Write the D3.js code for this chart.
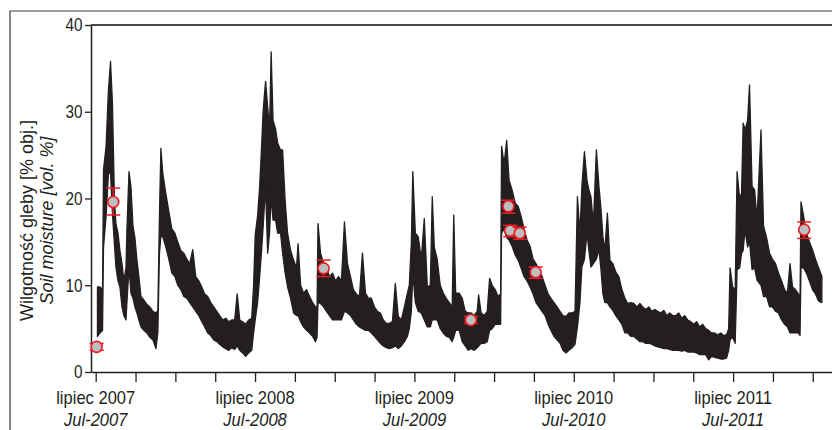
<!DOCTYPE html>
<html>
<head>
<meta charset="utf-8">
<script src="https://cdn.jsdelivr.net/npm/d3@7"></script>
<style>
  html, body { margin: 0; padding: 0; background: #fff; }
  svg { display: block; }
  text { font-family: 'Liberation Sans', Arial, sans-serif; fill: #231f20; }
</style>
</head>
<body>
<div id="chart"></div>
<script>
// Sample times (decimal years) of the sensor record
const sampleYears = [
  2007.511, 2007.527, 2007.543, 2007.549, 2007.565, 2007.580, 2007.593, 2007.605, 2007.618, 2007.627,
  2007.640, 2007.652, 2007.665, 2007.677, 2007.690, 2007.696, 2007.709, 2007.721, 2007.734, 2007.746,
  2007.759, 2007.771, 2007.784, 2007.802, 2007.821, 2007.840, 2007.859, 2007.878, 2007.890, 2007.900,
  2007.909, 2007.921, 2007.940, 2007.959, 2007.978, 2007.997, 2008.015, 2008.034, 2008.053, 2008.072,
  2008.090, 2008.109, 2008.128, 2008.147, 2008.166, 2008.184, 2008.203, 2008.222, 2008.241, 2008.260,
  2008.278, 2008.297, 2008.316, 2008.335, 2008.353, 2008.372, 2008.388, 2008.404, 2008.422, 2008.441,
  2008.460, 2008.479, 2008.491, 2008.501, 2008.516, 2008.529, 2008.541, 2008.551, 2008.566, 2008.579,
  2008.591, 2008.601, 2008.613, 2008.629, 2008.642, 2008.660, 2008.673, 2008.688, 2008.704, 2008.723,
  2008.742, 2008.760, 2008.770, 2008.786, 2008.804, 2008.823, 2008.842, 2008.861, 2008.879, 2008.889,
  2008.895, 2008.911, 2008.930, 2008.948, 2008.967, 2008.986, 2009.005, 2009.024, 2009.042, 2009.061,
  2009.080, 2009.099, 2009.117, 2009.136, 2009.155, 2009.174, 2009.193, 2009.211, 2009.230, 2009.249,
  2009.268, 2009.286, 2009.305, 2009.324, 2009.343, 2009.362, 2009.380, 2009.399, 2009.418, 2009.437,
  2009.456, 2009.468, 2009.481, 2009.490, 2009.506, 2009.524, 2009.543, 2009.562, 2009.581, 2009.600,
  2009.612, 2009.625, 2009.643, 2009.662, 2009.681, 2009.700, 2009.719, 2009.737, 2009.747, 2009.759,
  2009.781, 2009.800, 2009.819, 2009.838, 2009.856, 2009.875, 2009.894, 2009.903, 2009.919, 2009.938,
  2009.957, 2009.972, 2009.988, 2010.007, 2010.025, 2010.041, 2010.047, 2010.063, 2010.079, 2010.094,
  2010.113, 2010.132, 2010.151, 2010.169, 2010.188, 2010.207, 2010.226, 2010.245, 2010.263, 2010.282,
  2010.301, 2010.320, 2010.339, 2010.357, 2010.376, 2010.395, 2010.414, 2010.432, 2010.451, 2010.470,
  2010.489, 2010.508, 2010.523, 2010.539, 2010.551, 2010.567, 2010.583, 2010.595, 2010.608, 2010.623,
  2010.642, 2010.658, 2010.670, 2010.683, 2010.695, 2010.711, 2010.727, 2010.745, 2010.764, 2010.783,
  2010.802, 2010.821, 2010.839, 2010.858, 2010.877, 2010.896, 2010.915, 2010.933, 2010.952, 2010.971,
  2010.990, 2011.008, 2011.027, 2011.046, 2011.065, 2011.084, 2011.102, 2011.121, 2011.140, 2011.159,
  2011.178, 2011.196, 2011.215, 2011.234, 2011.253, 2011.271, 2011.290, 2011.309, 2011.328, 2011.347,
  2011.365, 2011.384, 2011.403, 2011.422, 2011.441, 2011.459, 2011.472, 2011.481, 2011.497, 2011.513,
  2011.525, 2011.541, 2011.553, 2011.563, 2011.575, 2011.591, 2011.603, 2011.619, 2011.635, 2011.650,
  2011.675, 2011.691, 2011.710, 2011.729, 2011.747, 2011.766, 2011.785, 2011.804, 2011.823, 2011.841,
  2011.857, 2011.873, 2011.891, 2011.910, 2011.920, 2011.926, 2011.942, 2011.960, 2011.979, 2011.998,
  2012.017, 2012.035, 2012.057
];

// Lowest moisture in each sample window [vol. %]
const lowValues = [
  4.1, 4.5, 4.8, 14.4, 17.9, 22.9, 22.9, 18.3, 14.6, 12.1,
  10.5, 9.8, 7.5, 6.5, 6.0, 8.0, 12.1, 9.1, 8.5, 7.5,
  6.8, 6.0, 5.2, 4.8, 4.5, 4.0, 3.7, 2.7, 4.5, 13.7,
  15.6, 15.6, 14.4, 13.0, 11.4, 11.0, 10.0, 9.5, 8.7, 8.5,
  8.0, 7.5, 7.0, 6.5, 5.8, 5.2, 4.5, 4.2, 3.7, 3.5,
  3.2, 2.9, 2.7, 2.5, 2.8, 2.6, 3.0, 2.5, 2.2, 1.8,
  2.2, 2.5, 4.5, 6.0, 8.0, 11.0, 14.0, 16.8, 21.4, 13.7,
  16.0, 20.2, 17.5, 17.5, 16.0, 16.0, 13.7, 11.5, 9.8, 8.5,
  6.8, 6.5, 6.5, 5.8, 5.2, 4.8, 4.5, 4.1, 3.5, 4.0,
  8.0, 7.9, 7.5, 7.0, 6.5, 6.0, 6.0, 6.0, 6.0, 7.0,
  6.8, 6.5, 6.0, 5.5, 5.2, 5.0, 4.8, 4.8, 4.5, 4.1,
  3.7, 3.3, 3.0, 2.8, 2.7, 2.8, 3.0, 2.7, 3.0, 3.5,
  4.1, 5.0, 7.0, 11.4, 8.0, 7.0, 6.8, 6.0, 5.2, 5.2,
  6.0, 6.0, 6.0, 5.0, 4.5, 4.1, 4.0, 3.5, 4.0, 4.8,
  4.8, 3.5, 3.0, 2.5, 2.7, 2.5, 2.8, 3.0, 3.3, 3.3,
  3.5, 4.8, 5.0, 5.5, 5.5, 5.5, 16.0, 16.5, 15.5, 15.2,
  14.5, 13.5, 12.9, 12.0, 11.0, 10.5, 9.8, 9.0, 8.0, 7.5,
  7.0, 6.5, 5.5, 4.8, 4.1, 3.7, 3.3, 2.5, 2.2, 2.5,
  2.8, 3.2, 5.2, 8.0, 12.1, 13.0, 16.0, 14.0, 12.1, 12.5,
  13.0, 14.1, 12.0, 9.0, 8.0, 8.0, 7.5, 7.1, 6.5, 6.0,
  5.5, 4.5, 4.5, 4.1, 4.1, 3.8, 3.5, 3.5, 3.3, 3.3,
  3.2, 3.0, 2.9, 2.8, 2.7, 2.7, 2.6, 2.5, 2.5, 2.5,
  2.4, 2.5, 2.3, 2.3, 2.3, 2.2, 2.0, 2.0, 2.0, 1.4,
  1.8, 1.7, 1.6, 1.5, 1.5, 1.6, 2.5, 3.7, 4.0, 3.3,
  11.8, 12.0, 13.7, 14.0, 16.4, 14.4, 15.0, 11.8, 12.0, 10.6,
  10.0, 8.7, 8.7, 7.5, 7.5, 7.0, 6.8, 6.0, 5.5, 5.2,
  4.5, 4.5, 4.5, 4.5, 4.2, 12.0, 12.0, 11.4, 10.5, 9.5,
  9.0, 8.2, 8.0
];

// Highest moisture in each sample window [vol. %]
const highValues = [
  9.8, 9.8, 9.5, 23.3, 26.0, 32.5, 35.8, 31.0, 19.5, 17.1,
  16.0, 14.0, 12.5, 10.5, 12.0, 16.4, 23.1, 21.4, 16.8, 15.5,
  12.9, 11.0, 8.7, 8.3, 7.8, 7.5, 7.0, 6.8, 7.1, 17.9,
  25.8, 22.9, 20.6, 18.5, 16.5, 16.0, 15.0, 14.0, 13.7, 13.0,
  12.5, 14.1, 11.0, 10.5, 9.8, 9.0, 8.7, 8.0, 7.5, 7.0,
  6.5, 6.0, 6.2, 5.8, 6.0, 6.0, 9.0, 6.0, 5.8, 5.5,
  6.0, 6.2, 10.0, 15.8, 18.0, 21.4, 26.0, 30.2, 33.5, 30.6,
  28.0, 36.9, 29.0, 28.0, 26.4, 25.6, 25.6, 20.0, 16.0, 14.0,
  12.9, 12.0, 14.8, 10.0, 9.1, 9.5, 8.7, 8.0, 7.5, 7.5,
  17.1, 13.7, 12.5, 12.0, 11.0, 11.4, 10.5, 11.0, 10.5, 17.3,
  12.5, 11.0, 9.5, 9.0, 8.7, 13.7, 9.1, 8.5, 8.5, 7.5,
  7.0, 6.8, 6.0, 5.6, 5.6, 5.8, 10.2, 6.4, 6.0, 7.5,
  9.1, 10.0, 15.0, 23.1, 16.0, 15.6, 13.0, 17.7, 9.8, 10.0,
  20.2, 14.4, 13.0, 10.0, 9.1, 8.5, 8.0, 7.5, 18.1, 9.1,
  9.1, 8.5, 7.0, 6.8, 6.8, 6.5, 7.0, 8.9, 6.8, 6.5,
  7.0, 10.8, 10.0, 9.5, 8.7, 9.0, 26.0, 24.0, 26.7, 22.1,
  21.0, 19.5, 19.1, 18.0, 16.5, 15.2, 14.5, 13.0, 12.5, 11.8,
  11.0, 10.0, 9.0, 8.5, 8.0, 7.5, 7.0, 6.5, 6.4, 6.8,
  6.8, 7.0, 20.2, 16.0, 21.4, 25.4, 22.1, 21.0, 20.2, 17.0,
  25.6, 21.4, 19.0, 15.6, 14.0, 18.3, 12.9, 12.5, 11.5, 11.0,
  9.5, 8.5, 7.9, 8.0, 7.9, 7.5, 7.9, 7.5, 7.2, 7.5,
  7.0, 7.2, 7.0, 6.8, 7.1, 6.5, 6.8, 6.5, 6.5, 6.8,
  6.2, 6.5, 6.0, 5.8, 5.5, 5.8, 5.2, 5.5, 5.0, 4.8,
  4.5, 4.5, 4.3, 4.5, 4.2, 4.3, 5.0, 12.0, 9.8, 9.5,
  23.1, 20.0, 20.6, 28.7, 27.9, 29.0, 33.1, 21.4, 21.0, 17.5,
  27.9, 16.8, 15.5, 13.7, 13.0, 12.5, 11.4, 10.5, 9.5, 9.1,
  12.5, 9.8, 9.5, 9.0, 8.5, 19.6, 18.0, 16.0, 15.0, 14.1,
  13.0, 12.1, 11.0
];

// Reference (gravimetric) measurements with their spread
const pointYears = [2007.506, 2007.610, 2008.930, 2009.854, 2010.090, 2010.101, 2010.161, 2010.261, 2011.946];
const pointValues = [2.9, 19.6, 11.95, 6.0, 19.1, 16.3, 16.0, 11.5, 16.4];
const pointLow = [2.5, 18.1, 11.0, 5.6, 18.3, 15.6, 15.3, 10.8, 15.4];
const pointHigh = [3.3, 21.2, 12.9, 6.4, 19.8, 16.9, 16.7, 12.1, 17.3];

// Axis ticks and labels
const yTicks = [0, 10, 20, 30, 40];
const majorYears = [2007.5, 2008.5, 2009.5, 2010.5, 2011.5];
const labelsPl = ['lipiec 2007', 'lipiec 2008', 'lipiec 2009', 'lipiec 2010', 'lipiec 2011'];
const labelsEn = ['Jul-2007', 'Jul-2008', 'Jul-2009', 'Jul-2010', 'Jul-2011'];

const width = 832;
const height = 430;
const plot = {left: 91, right: 832, top: 25, bottom: 372};
const ink = '#231f20';
const red = '#ed1c24';

const svg = d3.select('#chart')
  .append('svg')
  .attr('width', width)
  .attr('height', height);

// Scales
const x = d3.scaleLinear()
  .domain([2007.4705, 2012.1206])
  .range([plot.left, plot.right]);

const y = d3.scaleLinear()
  .domain([0, 40])
  .range([plot.bottom, plot.top]);

// Outer frame (top and left edge of the figure box)
svg.append('path')
  .attr('d', `M10,${height}V11H${width}`)
  .attr('fill', 'none')
  .attr('stroke', '#3a3a3a')
  .attr('stroke-width', 1.2);

// Top border of the plot
svg.append('line')
  .attr('x1', plot.left).attr('x2', plot.right)
  .attr('y1', y(40)).attr('y2', y(40))
  .attr('stroke', '#4a4a4a')
  .attr('stroke-width', 1.8);

// Moisture record: band between low and high values
const series = sampleYears.map((t, i) => ({t: t, lo: lowValues[i], hi: highValues[i]}));

const band = d3.area()
  .x(d => x(d.t))
  .y0(d => y(d.lo))
  .y1(d => y(d.hi));

svg.append('path')
  .datum(series)
  .attr('d', band)
  .attr('fill', ink)
  .attr('stroke', ink)
  .attr('stroke-width', 1.3)
  .attr('stroke-linejoin', 'round');

// Y axis
const yAxis = svg.append('g')
  .attr('transform', `translate(${plot.left},0)`)
  .call(d3.axisLeft(y).tickValues(yTicks).tickSize(6).tickSizeOuter(0).tickPadding(4));

yAxis.select('.domain').attr('stroke', ink).attr('stroke-width', 1.5);
yAxis.selectAll('.tick line').attr('stroke', ink).attr('stroke-width', 1.3);
yAxis.selectAll('.tick text')
  .attr('fill', ink)
  .attr('transform', 'scale(0.85,1)')
  .style('font-size', '18px');

// X axis with quarter-year ticks
const quarterTicks = d3.range(majorYears[0], 2012.01, 0.25);

const xAxis = svg.append('g')
  .attr('transform', `translate(0,${plot.bottom})`)
  .call(d3.axisBottom(x).tickValues(quarterTicks).tickFormat('').tickSize(10).tickSizeOuter(0));

xAxis.select('.domain').attr('stroke', ink).attr('stroke-width', 1.5);
xAxis.selectAll('.tick line').attr('stroke', ink).attr('stroke-width', 1.3);

// Two-line labels under the yearly ticks
const xLabels = svg.append('g')
  .selectAll('g')
  .data(majorYears)
  .enter()
  .append('g')
  .attr('transform', d => `translate(${x(d)},0) scale(0.92,1)`);

xLabels.append('text')
  .attr('y', 404)
  .attr('text-anchor', 'middle')
  .style('font-size', '18px')
  .text((d, i) => labelsPl[i]);

xLabels.append('text')
  .attr('y', 426)
  .attr('text-anchor', 'middle')
  .style('font-size', '18px')
  .style('font-style', 'italic')
  .text((d, i) => labelsEn[i]);

// Y axis title
const title = svg.append('g')
  .attr('transform', `translate(0,${(plot.top + plot.bottom) / 2 + 22}) rotate(-90)`);

title.append('text')
  .attr('x', 0)
  .attr('y', 33)
  .attr('text-anchor', 'middle')
  .style('font-size', '18px')
  .text('Wilgotność gleby [% obj.]');

title.append('text')
  .attr('x', 0)
  .attr('y', 53)
  .attr('text-anchor', 'middle')
  .style('font-size', '18px')
  .style('font-style', 'italic')
  .text('Soil moisture [vol. %]');

// Reference measurements with error bars
const points = pointYears.map((t, i) => ({t: t, v: pointValues[i], lo: pointLow[i], hi: pointHigh[i]}));

const marks = svg.append('g')
  .selectAll('g')
  .data(points)
  .enter()
  .append('g')
  .attr('transform', d => `translate(${x(d.t)},0)`);

marks.append('line')
  .attr('y1', d => y(d.lo))
  .attr('y2', d => y(d.hi))
  .attr('stroke', red)
  .attr('stroke-width', 1.5);

marks.selectAll('.cap')
  .data(d => [d.lo, d.hi])
  .enter()
  .append('line')
  .attr('class', 'cap')
  .attr('x1', -7).attr('x2', 7)
  .attr('y1', v => y(v)).attr('y2', v => y(v))
  .attr('stroke', red)
  .attr('stroke-width', 1.5);

marks.append('circle')
  .attr('cy', d => y(d.v))
  .attr('r', 5.5)
  .attr('fill', '#bcbec0')
  .attr('stroke', red)
  .attr('stroke-width', 1.6);
</script>
</body>
</html>
